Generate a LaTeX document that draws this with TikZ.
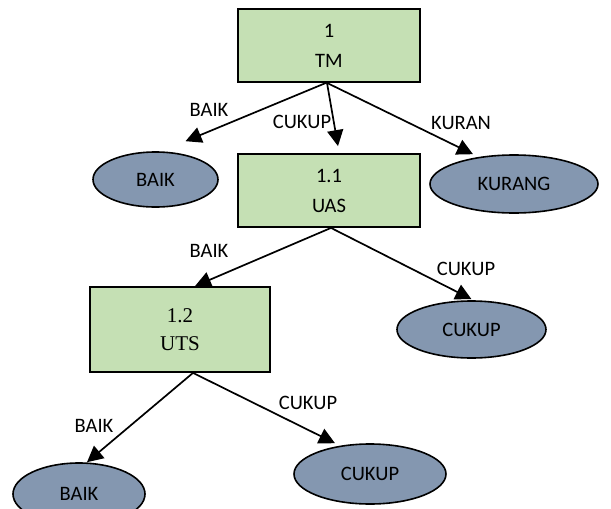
\documentclass[tikz,border=0pt]{standalone}
\usepackage{fontspec}
\setmainfont{Carlito}
\newfontfamily\serifti{Liberation Serif}
\usetikzlibrary{shapes.geometric,arrows.meta}
\definecolor{boxgreen}{HTML}{C5E0B4}
\definecolor{ellblue}{HTML}{8497B0}
\tikzset{
  procbox/.style={draw=black, line width=1.8pt, fill=boxgreen, rectangle, inner sep=0pt, align=center,
    font=\fontsize{20.5}{30}\selectfont},
  leaf/.style={draw=black, line width=1.6pt, fill=ellblue, ellipse, inner sep=0pt,
    font=\fontsize{20.5}{24}\selectfont},
  lbl/.style={inner sep=0pt, font=\fontsize{20.5}{24}\selectfont},
  conn/.style={line width=1.7pt, -{Triangle[length=16pt,width=16pt]}},
}
\begin{document}
\begin{tikzpicture}[x=1pt,y=-1pt]
\useasboundingbox (0,0) rectangle (611,509);
\clip (0,0) rectangle (611,509);
% process boxes
\node[procbox, minimum width=182pt, minimum height=73pt] (tm) at (329,45.5) {1\\TM};
\node[procbox, minimum width=182pt, minimum height=73pt] (uas) at (329,190.5) {1.1\\UAS};
\node[procbox, minimum width=180pt, minimum height=85pt, font=\serifti\fontsize{21}{28}\selectfont] (uts) at (180,329.5) {1.2\\UTS};
% leaves
\node[leaf, minimum width=125pt, minimum height=55pt] (baik1) at (155.5,179.5) {BAIK};
\node[leaf, minimum width=168pt, minimum height=58pt] (kurang) at (514,184) {KURANG};
\node[leaf, minimum width=149pt, minimum height=57pt] (cukup1) at (471.5,329.5) {CUKUP};
\node[leaf, minimum width=152pt, minimum height=60pt] (cukup2) at (370,474) {CUKUP};
\node[leaf, minimum width=132pt, minimum height=62pt] (baik2) at (79,494) {BAIK};
% connectors
\draw[conn] ([xshift=-3pt]tm.south) -- ([xshift=30pt,yshift=10pt]baik1.north);
\draw[conn] ([xshift=-2pt]tm.south) -- ([xshift=9pt,yshift=7pt]uas.north);
\draw[conn] ([xshift=-2pt]tm.south) -- ([xshift=-41pt]kurang.north);
\draw[conn] ([xshift=2pt]uas.south) -- ([xshift=15pt]uts.north);
\draw[conn] ([xshift=2pt]uas.south) -- ([yshift=1pt]cukup1.north);
\draw[conn] ([xshift=13pt]uts.south) -- ([xshift=8pt]baik2.north);
\draw[conn] ([xshift=13pt]uts.south) -- ([xshift=-35pt]cukup2.north);
% labels
\node[lbl] (l1) at (209,110) {BAIK};
\node[lbl] (l2) at (302,122) {CUKUP};
\node[lbl] (l3) at (461,123) {KURAN};
\node[lbl] (l4) at (209,251) {BAIK};
\node[lbl] (l5) at (466,269) {CUKUP};
\node[lbl] (l6) at (94,426) {BAIK};
\node[lbl] (l7) at (308,403) {CUKUP};
\end{tikzpicture}
\end{document}
